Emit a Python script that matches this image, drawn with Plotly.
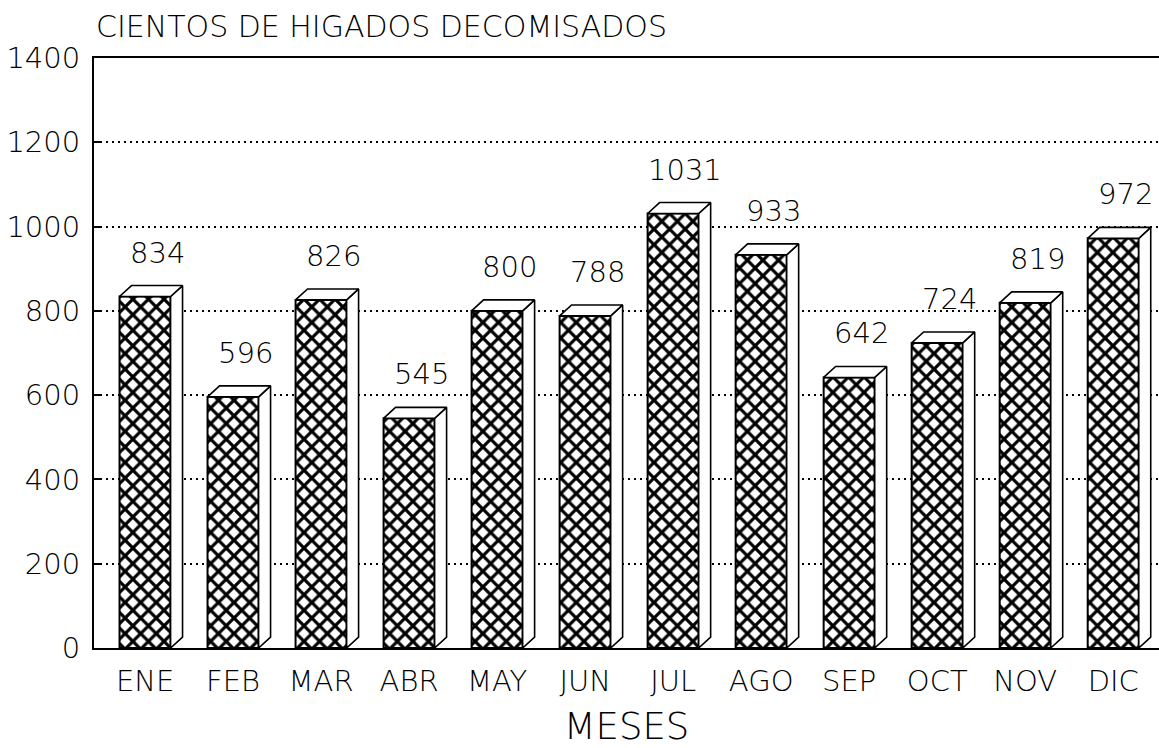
import numpy as np
import plotly.graph_objects as go

months = ["ENE", "FEB", "MAR", "ABR", "MAY", "JUN", "JUL", "AGO", "SEP", "OCT", "NOV", "DIC"]
values = [834, 596, 826, 545, 800, 788, 1031, 933, 642, 724, 819, 972]
y_ticks = [0, 200, 400, 600, 800, 1000, 1200, 1400]

FONT = "DejaVu Sans"
W = 200
BAR_W = 0.58
DX = 0.136   # depth offset in category units
DY = 26      # depth offset in data units

xs = np.arange(len(months))

fig = go.Figure()
fig.add_trace(go.Bar(
    x=xs, y=values, width=BAR_W,
    marker=dict(color="white",
                line=dict(color="black", width=2),
                pattern=dict(shape="x", size=11, solidity=0.5, fgopacity=1,
                             fgcolor="black", bgcolor="white")),
    hoverinfo="skip", showlegend=False,
))

for x, v in zip(xs, values):
    r = x + BAR_W / 2
    l = x - BAR_W / 2
    # side face
    fig.add_trace(go.Scatter(
        x=[r, r, r + DX, r + DX, r], y=[0, v, v + DY, DY, 0],
        mode="lines", fill="toself", fillcolor="white",
        line=dict(color="black", width=1.6), hoverinfo="skip", showlegend=False))
    # top face
    fig.add_trace(go.Scatter(
        x=[l, l + DX, r + DX, r, l], y=[v, v + DY, v + DY, v, v],
        mode="lines", fill="toself", fillcolor="white",
        line=dict(color="black", width=1.6), hoverinfo="skip", showlegend=False))
    fig.add_annotation(x=x + DX, y=v, text=str(v), showarrow=False,
                       yshift=44, yanchor="middle",
                       font=dict(family=FONT, size=29, color="black", weight=W))

fig.add_annotation(xref="paper", yref="paper", x=0, y=1, xanchor="left",
                   yanchor="bottom", yshift=12, text="CIENTOS DE HIGADOS DECOMISADOS",
                   showarrow=False, font=dict(family=FONT, size=30, color="black", weight=W))

fig.update_layout(
    width=1159, height=748,
    margin=dict(l=94, r=0, t=58, b=100),
    paper_bgcolor="white", plot_bgcolor="white",
    font=dict(family=FONT, color="black", weight=W),
    xaxis=dict(range=[-0.58, 11.52], tickvals=list(xs), ticktext=months,
               showgrid=False, zeroline=False, showline=True, mirror=True,
               linecolor="black", linewidth=2, ticks="",
               tickfont=dict(size=29, weight=W), ticklabelstandoff=6,
               title=dict(text="MESES", font=dict(size=37, weight=W), standoff=25)),
    yaxis=dict(range=[0, 1400], tickvals=y_ticks,
               showgrid=True, gridcolor="black", gridwidth=1.5, griddash="2px,4px",
               zeroline=False, showline=True, linecolor="black", linewidth=2,
               ticks="inside", ticklen=6, tickwidth=2, tickcolor="black",
               tickfont=dict(size=29, weight=W), ticklabelstandoff=6),
)

fig.write_html("out.html", config={"displayModeBar": False},
               post_script="document.body.style.margin='0px';")
